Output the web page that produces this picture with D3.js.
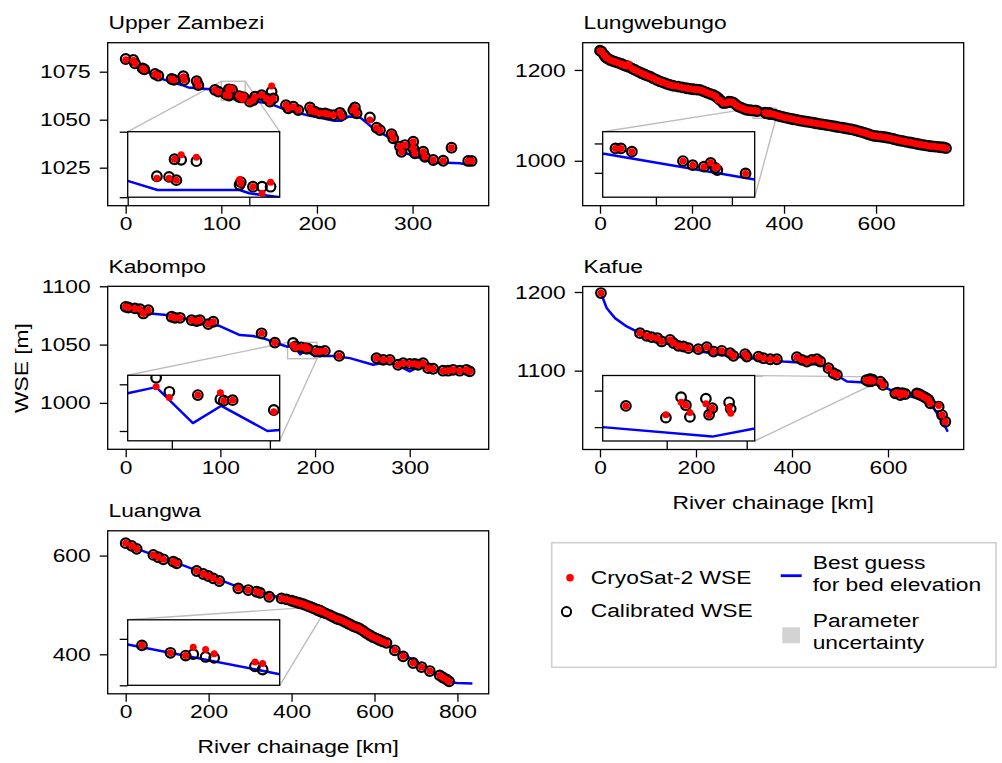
<!DOCTYPE html>
<html>
<head>
<meta charset="utf-8">
<script src="https://cdn.jsdelivr.net/npm/d3@7"></script>
<style>
  body { margin: 0; background: #fff; }
  svg { display: block; }
  text { font-family: "Liberation Sans", Arial, sans-serif; font-size: 19px; fill: #000; }
</style>
</head>
<body>
<svg id="fig" width="1002" height="763"></svg>
<script>
// ---------------- data ----------------
// Upper Zambezi
var uzKm  = [0,8,9.8,17.8,19.5,30.7,34.1,48.1,50.5,60.3,61.3,74.2,76,93.4,96.9,104.8,106.8,108,107.7,108.8,111.3,118.4,118.6,120.6,122.1,123.5,130,133.4,135.2,142.2,147.4,150.9,152.6,154.4,167.6,170,175.3,180.5,192.7,194.4,197.9,203,208.4,211.8,217,224,225.8,238,239.7,241.5,255.4,262.4,265.9,278,279.8,286.8,288.5,292,300.7,300.7,302.4,311.1,312.9,321.6,332,340.7,358.2,361.7];
var uzCal = [1081.6,1081.1,1079.3,1076.7,1076.2,1073.8,1072.9,1071.2,1070.7,1072.7,1070.7,1070.1,1068,1065.5,1064.6,1063.2,1063.1,1062.6,1065.8,1065.7,1065.5,1061.9,1062.3,1061.6,1061.6,1061.6,1059.4,1060.2,1062,1062.8,1061.1,1059.4,1064.6,1061.1,1057.6,1055.9,1056.8,1055,1056.4,1054.5,1054.2,1053.3,1053.3,1052.8,1052.4,1053.6,1052.4,1055,1056.4,1053.3,1051.2,1045.8,1044.6,1042.5,1040.3,1036,1033.3,1036.8,1038.5,1035.1,1032.5,1033.3,1030.7,1029,1028.6,1035.4,1028.5,1028.5];
var uzRaw = [1081.2,1080.8,1079.3,1076.7,1076.0,1073.8,1072.9,1071.2,1070.7,1072.4,1070.7,1070.1,1068,1065.5,1064.6,1062.9,1062.9,1062.6,1065.8,1066.5,1066.1,1062.7,1062.1,1061.6,1060.6,1062.3,1059.4,1060.2,1062,1062.8,1061.1,1059.4,1067.5,1061.1,1057.6,1055.9,1056.8,1055,1056.4,1054.5,1054.2,1053.3,1053.3,1052.8,1052.4,1053.6,1051.8,1055,1056.4,1053.3,1049.8,1045.8,1044.6,1042.5,1040.3,1036,1033.3,1036.8,1038.5,1035.1,1032.5,1033.3,1030.7,1029,1028.6,1035.4,1028.5,1028.5];
var uzBedKm = [0,35.9,58.5,65.5,88.2,100,104.9,118.4,120,125,150,168.3,189.2,217,225.8,232.8,245,258.9,279.8,288.5,304.2,321.6,335.5,349.5,360];
var uzBedZ  = [1081.1,1071.5,1068.1,1066.8,1065.8,1062.5,1061.1,1061.1,1060.6,1060,1058.5,1055,1052.4,1049.5,1049.5,1051.6,1051.2,1045.5,1039.4,1033.3,1030.7,1027.6,1027.6,1027.3,1026.4];
var uzXTicks = [0,100,200,300];
var uzYTicks = [1025,1050,1075];

// Lungwebungo
var lwKm  = [0,3.6,9,13,16,22,28,33,40,47,52,57,62,70,76,83,90.6,97,103,109,116,123,130,138,145,152,160,170,179,188,196,203,210,217,224,232,239,246,252,257,262,268,274,280,285,290,296,301,307,313,319,325,330,336.7,338.5,342.1,358.9,362.1,365.8,368,369.5,370.2,379.5,386,392,399,406,413,420,428,435,442,449,456,462,469,476,483,490,497,504,511,518,526,533,540,547,554,561,568,575,582,589,595,602,609,616,623,630,638,645,652,659,666,674,681,688,695,700,707,714,720,727,734,741,747,752];
var lwCal = [1242.5,1240.3,1233,1228,1225.6,1222,1219.5,1217.8,1215.5,1213.2,1210.5,1208.8,1207,1203,1200,1196.5,1192.7,1190,1187.5,1185.3,1181.5,1178,1175,1172.2,1169.5,1167,1165,1163.4,1161.5,1159.7,1158.5,1157.5,1156.8,1156,1153.5,1150.2,1147.5,1145.1,1141.5,1137.7,1133,1127,1127.5,1130,1129.5,1128.2,1123,1119.4,1117,1114.5,1112.1,1111.5,1110.8,1110.3,1110.3,1109.2,1106,1104.6,1104.1,1105.4,1103.7,1102.9,1101.8,1099.5,1097.8,1096,1094.5,1093,1091.5,1090,1088.6,1087.3,1086,1085,1084,1082.6,1081.4,1080.2,1079.1,1077.9,1076.7,1075.5,1074.2,1073,1071.6,1070.3,1069,1067.5,1065.5,1063.5,1061.6,1059,1056.5,1054.9,1054,1053.2,1052.4,1051.3,1049.8,1048,1046.2,1044.6,1043.2,1041.8,1040.3,1039,1037.5,1036.2,1035.2,1034,1032.8,1032,1031.3,1030.5,1029.8,1029.3,1027.8];
var lwRaw = [1242.5,1240.3,1233,1228,1225.6,1222,1219.5,1217.8,1215.5,1213.2,1210.5,1208.8,1213,1203,1200,1196.5,1192.7,1190,1187.5,1185.3,1181.5,1178,1175,1172.2,1169.5,1167,1165,1163.4,1161.5,1159.7,1158.5,1157.5,1156.8,1156,1153.5,1150.2,1147.5,1145.1,1141.5,1134,1133,1127,1127.5,1130,1129.5,1128.2,1123,1119.4,1117,1114.5,1112.1,1111.5,1110.8,1110.3,1110.3,1109.2,1106,1104.6,1104.1,1105.4,1103.7,1104,1101.8,1099.5,1097.8,1096,1094.5,1093,1091.5,1090,1088.6,1087.3,1086,1085,1084,1082.6,1081.4,1080.2,1079.1,1077.9,1076.7,1075.5,1074.2,1073,1071.6,1070.3,1069,1067.5,1065.5,1063.5,1061.6,1059,1056.5,1054.9,1054,1053.2,1052.4,1051.3,1049.8,1048,1046.2,1044.6,1043.2,1041.8,1040.3,1039,1037.5,1036.2,1035.2,1034,1032.8,1032,1031.3,1030.5,1029.8,1029.3,1027.8];
var lwBedKm = [0,16,57,76,109,152,217,246,257,265,290,301,332.5,382.5,435,490,545,595,645,700,752];
var lwBedZ  = [1240,1224,1207,1199,1184,1166,1154.5,1143.5,1136,1126,1126.5,1118,1108.6,1099.7,1087,1078,1068,1053.5,1045,1034,1026.5];
var lwXTicks = [0,200,400,600];
var lwYTicks = [1000,1200];

// Kabompo
var kbKm  = [0,2.8,9.8,15.1,18.6,23.9,48.5,52,57.3,69.6,74.9,78.4,87.2,92.5,143.5,157.6,176.8,179.5,185.3,189.9,190.6,192.4,200.8,205,210.3,225.5,264.9,272,278.9,287.7,293,300,305.3,308.8,314.1,319.4,324.7,335.2,340.5,345.8,352.8,359.8,363.3];
var kbCal = [1082.4,1081.8,1081,1080.4,1076.7,1079.5,1073.9,1073,1073,1071,1070.2,1071,1067.6,1069.6,1059.7,1051.7,1051.4,1048.4,1047.7,1046.8,1046.5,1046.6,1044.5,1044,1044.6,1040.3,1038.4,1036.9,1036.9,1032.7,1034.1,1033.5,1033.5,1032.7,1034.1,1029.8,1029.3,1027.6,1027.6,1028.4,1027.6,1028.4,1027];
var kbRaw = [1082.4,1081.8,1081,1080.4,1076.7,1079.5,1073.9,1073,1073,1071,1070.2,1071,1067.6,1069.6,1059.7,1051.7,1049.5,1047.2,1047.7,1048.2,1046.5,1046.6,1044.1,1044,1044.6,1040.3,1038.4,1036.9,1036.9,1032.7,1034.1,1033.5,1033.5,1032.7,1034.1,1029.8,1029.3,1027.6,1027.6,1028.4,1027.6,1028.4,1027];
var kbBedKm = [0,25.7,43.3,78.4,99.5,120.6,134.7,148.8,159.3,171,176.8,184.3,190.1,199.5,202,219.1,236.7,261.3,278.9,300,310.6,324.7,366.9];
var kbBedZ  = [1081,1076.7,1075.3,1069.6,1065.9,1058.2,1057.4,1054.5,1051.1,1048.1,1049.4,1041.7,1045.4,1040,1040.2,1040.3,1038.4,1032.7,1035.5,1027,1031.3,1028.4,1027];
var kbXTicks = [0,100,200,300];
var kbYTicks = [1000,1050,1100];

// Kafue
var kfKm  = [2,83.4,97.3,107.8,119.6,128.6,146,153,163.4,173.8,184.2,205,222.5,236.4,253.7,271.1,278,302.4,305.9,330.2,340.6,354.5,368.4,410.2,420.6,431,441.4,451.9,458.8,476.2,486.6,493.6,554.9,559.9,561.8,562.4,562.9,564.9,565.7,565.3,567.8,568,584,589.5,615.2,620,625.6,630,636,660,663.9,668,674.3,680,684.7,688.2,705.6,712.6,719.5];
var kfCal = [1198.7,1147.7,1144.3,1142.6,1141.3,1137.1,1139.2,1135,1131.5,1130.7,1128.6,1127.3,1129.8,1124.3,1125.2,1122.2,1118.8,1120.9,1117.9,1117.9,1115.8,1114.5,1114.5,1117.1,1113.7,1111.6,1113.7,1114.5,1111.6,1103.1,1096.7,1094.6,1087.9,1086.3,1089.1,1088.0,1086.4,1088.9,1087.6,1086.7,1088.4,1087.5,1086,1081.8,1071.2,1072,1069,1071.5,1070.3,1071,1070.3,1069,1066.9,1065,1062.7,1058.4,1054.2,1043.5,1035];
var kfRaw = [1198.7,1147.7,1144.3,1142.6,1141.3,1137.1,1139.2,1135,1131.5,1130.7,1128.6,1127.3,1129.8,1124.3,1125.2,1122.2,1118.8,1120.9,1117.9,1117.9,1115.8,1114.5,1114.5,1117.1,1113.7,1111.6,1113.7,1114.5,1111.6,1103.1,1096.7,1094.6,1087.9,1086.7,1088.4,1088.0,1087.0,1088.2,1087.6,1086.7,1087.7,1086.9,1086,1081.8,1071.2,1072,1069,1071.5,1070.3,1071,1070.3,1069,1066.9,1065,1062.7,1058.4,1055.5,1043.5,1035];
var kfBedKm = [2,13.9,31.3,55.6,83.4,139,208.5,278,382.3,438,469.2,486.6,514.4,552,565.7,571,590.9,618.7,653.5,674.3,695.2,716,724.4];
var kfBedZ  = [1198.7,1179.6,1166.8,1156.2,1147.7,1135,1124.3,1117.9,1111.6,1109.4,1105.2,1096.7,1086.1,1085,1083.7,1084.8,1079.7,1071.2,1066.1,1062.7,1052,1032.9,1022.3];
var kfXTicks = [0,200,400,600];
var kfYTicks = [1100,1200];

// Luangwa
var lgKm  = [0,14.5,26.5,66.7,78.7,90.8,114.9,122.9,171.1,187.1,199.2,211.2,225.7,271.5,295.6,315.7,323.7,346.2,375.9,388,400,408,416.1,422,428.1,434,440.2,445,450,455,461.5,464.5,466.1,466.9,468.2,469.1,473.4,474.2,482,492.4,500,508.4,514,520.5,528,536.5,542,548.6,555,560.6,566,572.7,580,588.8,596,604.8,612,620,628.9,649,669.1,693.2,713.3,733.3,757.4,765,773.5,779.9];
var lgCal = [625.1,619.7,613.6,601.4,596.6,592.5,587.8,584.4,568.8,562.7,558.6,553.9,548.5,533.6,530.2,526.8,524.7,516.6,513.2,511.2,508.5,506.5,504.4,503,501.7,499.5,497.6,496,494.5,492.5,490.6,489,488.4,488.7,488.1,487.9,486.1,485.4,483,479.3,476,472.5,471,469.2,466,462.4,460,457,455,453.6,451,447.5,443,438.6,435,431.9,429,426,423.1,408.1,395.9,382.4,374.2,366.1,357.3,353,349.2,345.1];
var lgRaw = [625.1,619.7,613.6,601.4,596.6,592.5,587.8,584.4,568.8,562.7,558.6,553.9,548.5,533.6,530.2,526.8,524.7,516.6,513.2,511.2,508.5,506.5,504.4,503,501.7,499.5,497.6,496,494.5,492.5,490.6,489,488.4,490.2,489.7,488.8,487,486.7,483,479.3,476,472.5,471,469.2,466,462.4,460,457,455,453.6,451,447.5,443,438.6,435,431.9,429,426,423.1,408.1,395.9,382.4,374.2,366.1,357.3,353,349.2,345.1];
var lgBedKm = [0,147,259.4,379.9,430,460,476,580.7,661,741.4,780,798,836];
var lgBedZ  = [621.7,577.6,540.3,513.2,499,490.8,484.4,442,404.7,364,345,342,341];
var lgXTicks = [0,200,400,600,800];
var lgYTicks = [400,600];

// ---------------- layout ----------------
var W = 381, H = 163;
var SX = 1.2;   // text is a bit wider than plain Arial in the original
var INS = {x: 20, y: 89, w: 152, h: 65.5};

var panels = [
  {id: "uz", name: "Upper Zambezi", left: 107.7, top: 42.7,
   km: uzKm, cal: uzCal, raw: uzRaw, bedKm: uzBedKm, bedZ: uzBedZ,
   xDomain: [-18.8, 379.6], yDomain: [1005.2, 1090.1], xTicks: uzXTicks, yTicks: uzYTicks,
   inset: {x: [100, 125], y: [1060, 1070], xTicks: [100, 120], yTicks: [1060, 1070], corners: ["tl", "tr"]}},
  {id: "lw", name: "Lungwebungo", left: 582.7, top: 42.7,
   km: lwKm, cal: lwCal, raw: lwRaw, bedKm: lwBedKm, bedZ: lwBedZ,
   xDomain: [-37.6, 790.5], yDomain: [901.1, 1260], xTicks: lwXTicks, yTicks: lwYTicks,
   inset: {x: [332.5, 382.5], y: [1093.7, 1116], xTicks: [350, 375], yTicks: [1102, 1112], corners: ["tl", "br"]}},
  {id: "kb", name: "Kabompo", left: 107.7, top: 286.3,
   km: kbKm, cal: kbCal, raw: kbRaw, bedKm: kbBedKm, bedZ: kbBedZ,
   xDomain: [-19, 383.4], yDomain: [960.2, 1100], xTicks: kbXTicks, yTicks: kbYTicks,
   inset: {x: [171, 202], y: [1037.9, 1051.93], xTicks: [180, 200], yTicks: [1040, 1050], corners: ["tl", "br"]}},
  {id: "kf", name: "Kafue", left: 582.7, top: 286.5,
   km: kfKm, cal: kfCal, raw: kfRaw, bedKm: kfBedKm, bedZ: kfBedZ,
   xDomain: [-36, 757.7], yDomain: [999.7, 1207], xTicks: kfXTicks, yTicks: kfYTicks,
   inset: {x: [552, 571], y: [1083.1, 1092.07], xTicks: [560, 570], yTicks: [1085, 1090], corners: ["tr", "br"]},
   xLabel: true},
  {id: "lg", name: "Luangwa", left: 107.7, top: 530.8,
   km: lgKm, cal: lgCal, raw: lgRaw, bedKm: lgBedKm, bedZ: lgBedZ,
   xDomain: [-43.4, 875.4], yDomain: [320, 650.2], xTicks: lgXTicks, yTicks: lgYTicks,
   inset: {x: [460, 476], y: [482, 496.1], xTicks: [], yTicks: [482, 492], corners: ["tl", "br"]},
   xLabel: true}
];

var svg = d3.select("#fig");
svg.append("rect").attr("width", 1002).attr("height", 763).attr("fill", "#fff");
var defs = svg.append("defs");

// text helper, stretched horizontally around its anchor
function addText(parent, x, y, str, anchor, rot) {
  return parent.append("text")
    .attr("transform", `translate(${x},${y})` + (rot ? ` rotate(${rot})` : "") + ` scale(${SX},1)`)
    .attr("text-anchor", anchor || "start")
    .text(str);
}

function stretchTicks(axisG) {
  axisG.attr("font-size", null).attr("font-family", null);
  axisG.select(".domain").remove();
  axisG.selectAll("line").attr("stroke", "#000").attr("stroke-width", 1.3);
  axisG.selectAll(".tick text").each(function() {
    var t = d3.select(this);
    var xv = +t.attr("x") || 0;
    t.attr("x", xv / SX).attr("transform", `scale(${SX},1)`);
  });
}

// bed line + black calibrated rings + red CryoSat dots
function drawSeries(sel, p, x, y) {
  sel.append("path")
    .datum(d3.zip(p.bedKm, p.bedZ))
    .attr("d", d3.line().x(d => x(d[0])).y(d => y(d[1])))
    .attr("fill", "none")
    .attr("stroke", "#0000ff")
    .attr("stroke-width", 2.5)
    .attr("stroke-linejoin", "round");

  var pts = p.km.map((k, i) => ({k: k, raw: p.raw[i], cal: p.cal[i]}));

  sel.append("g").selectAll("circle")
    .data(pts).join("circle")
    .attr("cx", d => x(d.k))
    .attr("cy", d => y(d.cal))
    .attr("r", 4.8)
    .attr("fill", "none")
    .attr("stroke", "#000")
    .attr("stroke-width", 2.2);

  sel.append("g").selectAll("circle")
    .data(pts).join("circle")
    .attr("cx", d => x(d.k))
    .attr("cy", d => y(d.raw))
    .attr("r", 3.5)
    .attr("fill", "#ff0000");
}

var fmt = d3.format("d");

function drawPanel(p) {
  var g = svg.append("g").attr("transform", `translate(${p.left},${p.top})`);
  var x = d3.scaleLinear().domain(p.xDomain).range([0, W]);
  var y = d3.scaleLinear().domain(p.yDomain).range([H, 0]);

  defs.append("clipPath").attr("id", "clip-" + p.id)
    .append("rect").attr("width", W).attr("height", H);
  var plot = g.append("g").attr("clip-path", `url(#clip-${p.id})`);

  // zoom rectangle and connectors
  var zx0 = x(p.inset.x[0]), zx1 = x(p.inset.x[1]);
  var zy0 = y(p.inset.y[1]), zy1 = y(p.inset.y[0]);
  var rc = {tl: [zx0, zy0], tr: [zx1, zy0], bl: [zx0, zy1], br: [zx1, zy1]};
  var ic = {tl: [INS.x, INS.y], tr: [INS.x + INS.w, INS.y],
            bl: [INS.x, INS.y + INS.h], br: [INS.x + INS.w, INS.y + INS.h]};
  plot.append("rect")
    .attr("x", zx0).attr("y", zy0)
    .attr("width", zx1 - zx0).attr("height", zy1 - zy0)
    .attr("fill", "none").attr("stroke", "#bdbdbd").attr("stroke-width", 1.4);
  p.inset.corners.forEach(function(c) {
    plot.append("line")
      .attr("x1", rc[c][0]).attr("y1", rc[c][1])
      .attr("x2", ic[c][0]).attr("y2", ic[c][1])
      .attr("stroke", "#bdbdbd").attr("stroke-width", 1.4);
  });

  drawSeries(plot, p, x, y);

  // inset axes
  var ig = g.append("g").attr("transform", `translate(${INS.x},${INS.y})`);
  var ix = d3.scaleLinear().domain(p.inset.x).range([0, INS.w]);
  var iy = d3.scaleLinear().domain(p.inset.y).range([INS.h, 0]);
  ig.append("rect").attr("width", INS.w).attr("height", INS.h).attr("fill", "#fff");
  defs.append("clipPath").attr("id", "iclip-" + p.id)
    .append("rect").attr("width", INS.w).attr("height", INS.h);
  drawSeries(ig.append("g").attr("clip-path", `url(#iclip-${p.id})`), p, ix, iy);
  ig.append("rect").attr("width", INS.w).attr("height", INS.h)
    .attr("fill", "none").attr("stroke", "#000").attr("stroke-width", 1.3);
  var il = ig.append("g").call(d3.axisLeft(iy).tickValues(p.inset.yTicks).tickSize(8).tickFormat(""));
  stretchTicks(il);
  var ib = ig.append("g").attr("transform", `translate(0,${INS.h})`)
    .call(d3.axisBottom(ix).tickValues(p.inset.xTicks).tickSize(8).tickFormat(""));
  stretchTicks(ib);

  // main axes
  var xa = g.append("g").attr("transform", `translate(0,${H})`)
    .call(d3.axisBottom(x).tickValues(p.xTicks).tickFormat(fmt).tickSize(8).tickPadding(3));
  stretchTicks(xa);
  var ya = g.append("g")
    .call(d3.axisLeft(y).tickValues(p.yTicks).tickFormat(fmt).tickSize(8).tickPadding(9));
  stretchTicks(ya);
  g.append("rect").attr("width", W).attr("height", H)
    .attr("fill", "none").attr("stroke", "#000").attr("stroke-width", 1.3);

  addText(g, 0.8, -13.5, p.name);
  if (p.xLabel) addText(g, W / 2, H + 59, "River chainage [km]", "middle");
}

panels.forEach(drawPanel);

// y axis label
addText(svg, 28, 368, "WSE [m]", "middle", -90);

// ---------------- legend ----------------
var lg = svg.append("g");
lg.append("rect")
  .attr("x", 551.7).attr("y", 542.7).attr("width", 444.3).attr("height", 124.6)
  .attr("fill", "#fff").attr("stroke", "#d0d0d0").attr("stroke-width", 1.6);
lg.append("circle").attr("cx", 570).attr("cy", 577.7).attr("r", 3.8).attr("fill", "#ff0000");
addText(lg, 590.7, 584, "CryoSat-2 WSE");
lg.append("circle").attr("cx", 566.5).attr("cy", 611.7).attr("r", 4.6)
  .attr("fill", "none").attr("stroke", "#000").attr("stroke-width", 2);
addText(lg, 590.7, 617, "Calibrated WSE");
lg.append("line").attr("x1", 780.7).attr("x2", 801.7).attr("y1", 575.7).attr("y2", 575.7)
  .attr("stroke", "#0000ff").attr("stroke-width", 2.8);
addText(lg, 812.7, 568.5, "Best guess");
addText(lg, 812.7, 591.2, "for bed elevation");
lg.append("rect").attr("x", 782.3).attr("y", 627.3).attr("width", 17.7).attr("height", 16)
  .attr("fill", "#d3d3d3");
addText(lg, 812.7, 626.7, "Parameter");
addText(lg, 812.7, 649.4, "uncertainty");
</script>
</body>
</html>
